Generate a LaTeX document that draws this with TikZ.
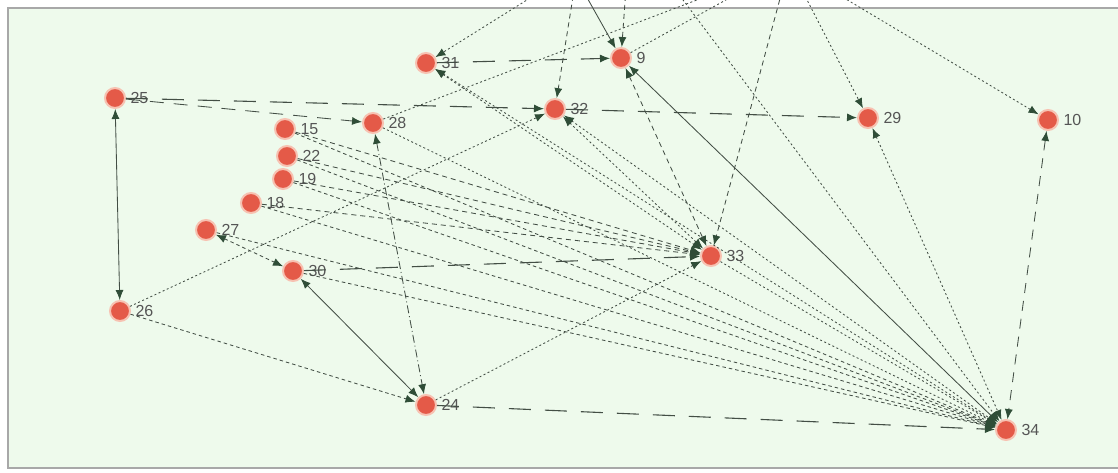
\documentclass[tikz,border=0pt]{standalone}
\usepackage{fontspec}
\setmainfont{Liberation Sans}
\usetikzlibrary{arrows.meta}
\definecolor{bg}{HTML}{EEFAEC}
\definecolor{framec}{HTML}{A8A8A8}
\definecolor{nred}{HTML}{E45A48}
\definecolor{nhalo}{HTML}{F7C2B2}
\definecolor{ecol}{HTML}{434E45}
\definecolor{ag}{HTML}{2F4D37}
\definecolor{lcol}{HTML}{555555}
\begin{document}
\begin{tikzpicture}[x=1pt,y=-1pt,
 vert/.style={circle,fill=nred,draw=nhalo,line width=2pt,minimum size=20pt,inner sep=0pt},
 lab/.style={label={[text=lcol,font=\fontsize{16}{16}\selectfont,label distance=1pt]right:#1}},
 e/.style={draw=ecol,line width=0.85pt},
 short/.style={e,dash pattern=on 3.5pt off 3pt},
 med/.style={e,dash pattern=on 5pt off 4pt},
 lng/.style={e,dash pattern=on 22pt off 14pt,line width=1.1pt},
 dotd/.style={e,dash pattern=on 2pt off 2.5pt},
 dashdot/.style={e,dash pattern=on 8pt off 3pt on 1pt off 3pt},
 ar/.style={-{Latex[length=10pt,width=8pt,color=ag]}},
 ab/.style={{Latex[length=10pt,width=8pt,color=ag]}-{Latex[length=10pt,width=8pt,color=ag]}},
]
\useasboundingbox (0,0) rectangle (1118,472);
\clip (0,0) rectangle (1118,472);
\fill[white] (0,0) rectangle (1118,472);
\draw[framec,line width=1.5pt,fill=bg] (8,8) rectangle (1130,468);

% nodes
\node[vert,lab=9]  (n9)  at (621,58)  {};
\node[vert,lab=10] (n10) at (1048,120) {};
\node[vert,lab=15] (n15) at (285,129) {};
\node[vert,lab=18] (n18) at (251,203) {};
\node[vert,lab=19] (n19) at (283,179) {};
\node[vert,lab=22] (n22) at (287,156) {};
\node[vert,lab=24] (n24) at (426,405) {};
\node[vert,lab=25] (n25) at (115,98)  {};
\node[vert,lab=26] (n26) at (120,311) {};
\node[vert,lab=27] (n27) at (206,230) {};
\node[vert,lab=28] (n28) at (373,123) {};
\node[vert,lab=29] (n29) at (868,118) {};
\node[vert,lab=30] (n30) at (293,271) {};
\node[vert,lab=31] (n31) at (426,63)  {};
\node[vert,lab=32] (n32) at (555,109) {};
\node[vert,lab=33] (n33) at (711,256) {};
\node[vert,lab=34] (n34) at (1006,430) {};

% off-picture ends
\coordinate (N1) at (576,-22);
\coordinate (N2) at (591,-40);
\coordinate (N3) at (789,-35);
\coordinate (Nd) at (628,-40);
\coordinate (Ng) at (653,-40);

% top edges
\draw[dotd,ar] (N2) -- (n31);
\draw[med,ar] (N1) -- (n32);
\draw[e,ar] (N1) -- (n9);
\draw[med,ar] (Nd) -- (n9);
\draw[dotd] (n28) -- (N3);
\draw[dotd] (n9) -- (N3);
\draw[dotd,ar] (Ng) -- (n34);
\draw[med,ar] (N3) -- (n33);
\draw[dotd,ar] (N3) -- (n29);
\draw[dotd,ar] (N3) -- (n10);

% left cluster
\draw[e,ab] (n25) -- (n26);
\draw[lng,ar] (n25) -- (n32);
\draw[e,dash pattern=on 14pt off 10pt,ar] (n25) -- (n28);
\draw[lng,ar] (n31) -- (n9);
\draw[lng,ar] (n32) -- (n29);
\draw[dotd,ar] (n26) -- (n32);
\draw[short,ar] (n26) -- (n24);
\draw[e,ab] (n30) -- (n24);
\draw[dashdot,ab] (n28) -- (n24);
\draw[short,ab] (n27) -- (n30);
\draw[dotd,ar] (n24) -- (n33);
\draw[lng,ar] (n24) -- (n34);

% into 33
\draw[med,ar] (n15) -- (n33);
\draw[med,ar] (n22) -- (n33);
\draw[med,ar] (n19) -- (n33);
\draw[med,ar] (n18) -- (n33);
\draw[lng,ar] (n30) -- (n33);
\draw[dotd,ab] (n32) -- (n33);
\draw[dotd,ab] (n31) -- (n33);
\draw[med,ab] (n9) -- (n33);

% into 34
\draw[short,ar] (n15) -- (n34);
\draw[short,ar] (n22) -- (n34);
\draw[short,ar] (n19) -- (n34);
\draw[short,ar] (n18) -- (n34);
\draw[short,ar] (n27) -- (n34);
\draw[short,ar] (n30) -- (n34);
\draw[dotd,ar] (n28) -- (n34);
\draw[e,ab] (n9) -- (n34);
\draw[dotd,ab] (n31) -- (n34);
\draw[dotd,ab] (n32) -- (n34);
\draw[dotd,ab] (n29) -- (n34);
\draw[e,dash pattern=on 10pt off 8pt,ab] (n10) -- (n34);
\draw[dotd,ar] (n33) -- (n34);
\end{tikzpicture}
\end{document}
